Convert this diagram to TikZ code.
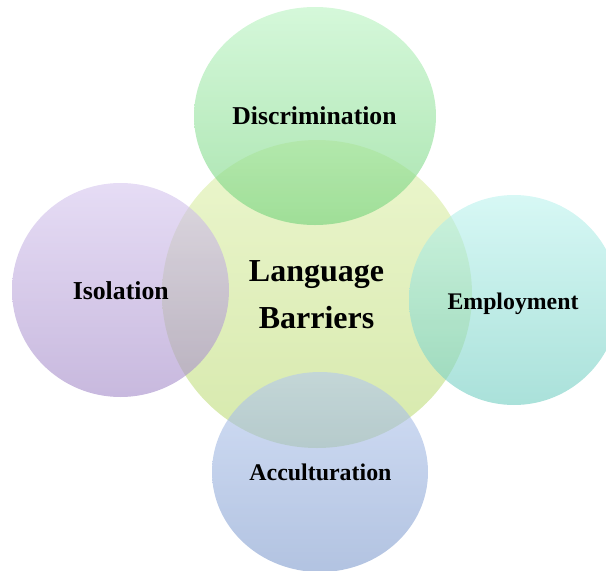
\documentclass[tikz,border=0pt]{standalone}
\usepackage{fontspec}
\setmainfont{Liberation Serif}
\usetikzlibrary{shapes.geometric}
\definecolor{cenT}{RGB}{223,240,173}
\definecolor{cenB}{RGB}{187,218,117}
\definecolor{disT}{RGB}{185,243,193}
\definecolor{disB}{RGB}{113,210,122}
\definecolor{isoT}{RGB}{213,197,238}
\definecolor{isoB}{RGB}{163,138,200}
\definecolor{empT}{RGB}{188,243,238}
\definecolor{empB}{RGB}{113,205,193}
\definecolor{accT}{RGB}{180,200,238}
\definecolor{accB}{RGB}{127,155,205}
\tikzset{
  blob/.style={ellipse, draw=none, inner sep=0pt, fill opacity=0.6},
  lbl/.style={anchor=base, font=\bfseries, text=black, inner sep=0pt}
}
\begin{document}
\begin{tikzpicture}[x=1pt,y=-1pt]
\useasboundingbox (0,0) rectangle (606,571);
\node[blob, minimum width=310pt, minimum height=308pt, top color=cenT, bottom color=cenB] (center) at (317,294) {};
\node[blob, minimum width=242pt, minimum height=218pt, top color=disT, bottom color=disB] (disc) at (315,116) {};
\node[blob, minimum width=217pt, minimum height=214pt, top color=isoT, bottom color=isoB] (iso) at (120.5,290) {};
\node[blob, minimum width=210pt, minimum height=210pt, top color=empT, bottom color=empB] (emp) at (514,300) {};
\node[blob, minimum width=216pt, minimum height=200pt, top color=accT, bottom color=accB] (acc) at (320,472) {};
\node[lbl, font=\bfseries\fontsize{32}{38}\selectfont] (lang) at (316.5,281.7) {Language};
\node[lbl, font=\bfseries\fontsize{32}{38}\selectfont] (barr) at (316.5,328) {Barriers};
\node[lbl, font=\bfseries\fontsize{25.7}{30}\selectfont] (tdisc) at (314.5,124.3) {Discrimination};
\node[lbl, font=\bfseries\fontsize{25.8}{30}\selectfont] (tiso) at (120.8,299.3) {Isolation};
\node[lbl, font=\bfseries\fontsize{23.8}{28}\selectfont] (temp) at (513,309) {Employment};
\node[lbl, font=\bfseries\fontsize{23.9}{28}\selectfont] (tacc) at (320.5,480.7) {Acculturation};
\end{tikzpicture}
\end{document}
